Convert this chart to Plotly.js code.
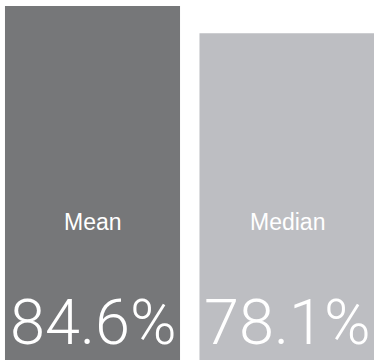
<!DOCTYPE html>
<html>
<head>
<meta charset="utf-8">
<script src="https://cdn.plot.ly/plotly-3.0.1.min.js"></script>
<style>html,body{margin:0;padding:0;background:#fff;}#chart{width:374px;height:360px;}</style>
</head>
<body>
<div id="chart"></div>
<script>
var categories = ["Mean", "Median"];
var values = [84.6, 78.1];
var colors = ["#767779", "#bdbec2"];

var annotations = [];
categories.forEach(function (c, i) {
  annotations.push({
    x: c, y: 33, xref: "x", yref: "y", text: c, showarrow: false,
    font: {family: "Liberation Sans, Arial, sans-serif", size: 23, color: "#ffffff"},
    xanchor: "center", yanchor: "middle"
  });
  annotations.push({
    x: c, y: 0, xref: "x", yref: "y", text: values[i].toFixed(1) + "%", showarrow: false,
    font: {family: "Roboto, Liberation Sans, Arial, sans-serif", size: 63, color: "#ffffff", weight: 300},
    xanchor: "center", yanchor: "bottom", borderpad: 0, yshift: 0
  });
});

var data = [{
  type: "bar",
  x: categories,
  y: values,
  width: 0.9,
  marker: {color: colors, line: {width: 0}},
  hoverinfo: "none"
}];

var layout = {
  width: 374, height: 360,
  margin: {l: 0, r: 0, t: 0, b: 0, pad: 0},
  paper_bgcolor: "#ffffff", plot_bgcolor: "#ffffff",
  showlegend: false,
  xaxis: {range: [-0.4756, 1.4473], visible: false, fixedrange: true},
  yaxis: {range: [0, 86.04], visible: false, fixedrange: true},
  annotations: annotations
};

Plotly.newPlot("chart", data, layout, {displayModeBar: false, staticPlot: true});
</script>
</body>
</html>
